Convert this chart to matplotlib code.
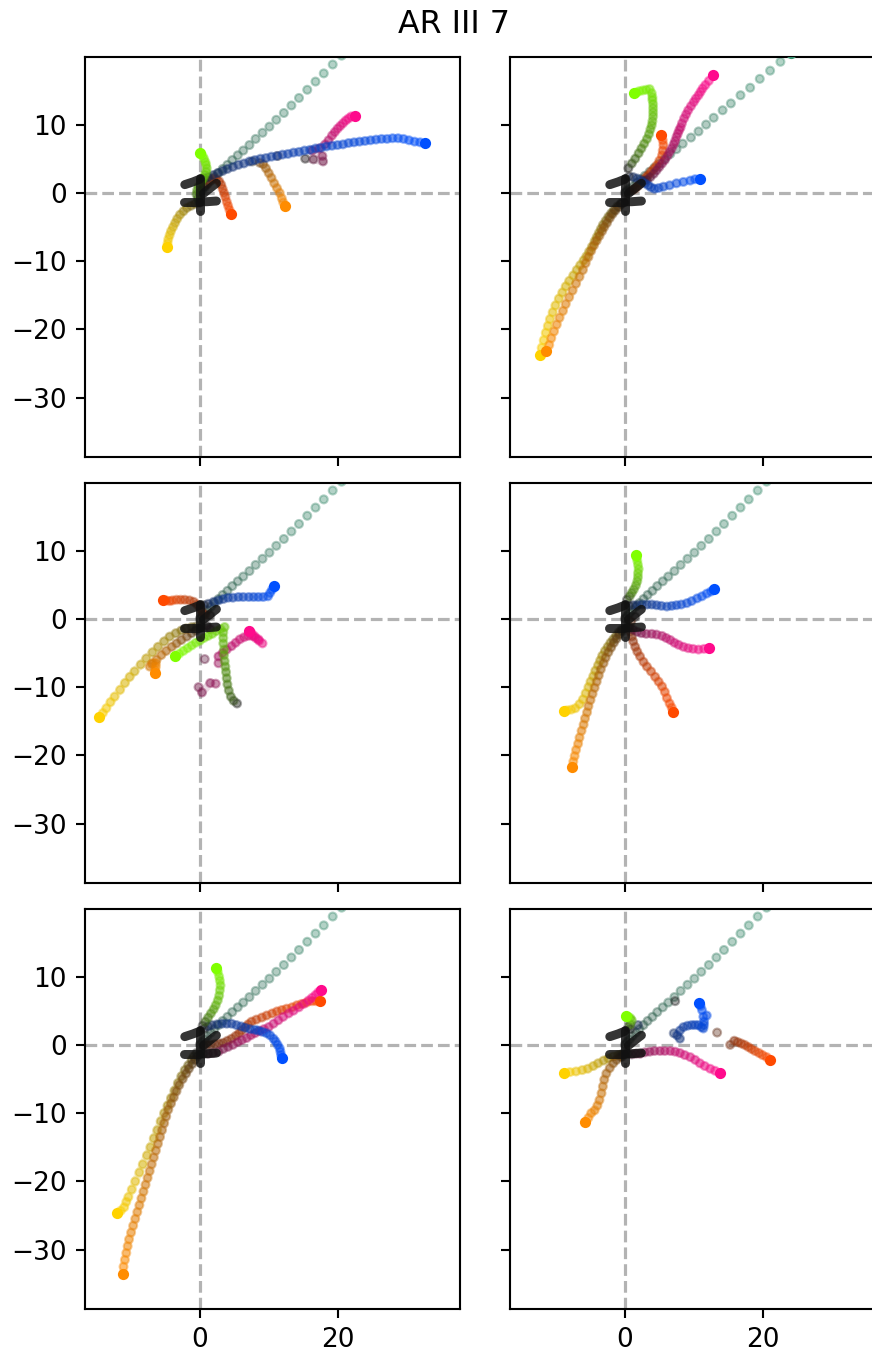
import numpy as np
import matplotlib.pyplot as plt
from matplotlib.collections import LineCollection
from matplotlib.colors import to_rgb

# short strokes where the keypoints sit at the start of every clip
START_A = [(-2.2, 1.2), (-1.6, 1.4), (-1.0, 1.6), (-0.5, 1.8), (0.0, 2.0)]
START_B = [(0.5, -0.1), (1.0, 0.3), (1.5, 0.7), (2.0, 1.1), (2.4, 1.4)]
START_C = [(-2.3, -1.3), (-1.6, -1.3), (-0.9, -1.3), (-0.2, -1.3)]
START_C2 = [(2.4, -1.2), (1.7, -1.25), (1.0, -1.3), (0.3, -1.3)]
START_D = [(0.0, -2.6), (0.0, -1.8), (0.0, -1.0), (0.0, -0.2), (0.0, 0.6), (0.0, 1.4), (0.0, 2.2)]
NO_START = []

# reference diagonal
diag = [(0, 0), (0.3, 0.4), (0.7, 0.8), (1.1, 1.3), (1.6, 1.8), (2.1, 2.3), (2.7, 2.9), (3.3, 3.5),
        (4.0, 4.1), (4.7, 4.8), (5.5, 5.5), (6.3, 6.2), (7.2, 7.0), (8.1, 7.9), (9.1, 8.8), (10.1, 9.7),
        (11.1, 10.7), (12.2, 11.7), (13.3, 12.8), (14.4, 13.9), (15.6, 15.1), (16.8, 16.3), (18.0, 17.5),
        (19.3, 18.8), (20.6, 20.1), (21.9, 21.4)]
diag_2 = [(0, 0), (0.3, 0.3), (0.7, 0.6), (1.2, 1.0), (1.7, 1.5), (2.3, 2.0), (2.9, 2.5), (3.6, 3.1),
          (4.3, 3.7), (5.0, 4.3), (5.8, 5.0), (6.6, 5.7), (7.5, 6.4), (8.4, 7.2), (9.6, 8.1), (10.7, 9.0),
          (11.8, 10.0), (12.9, 11.0), (14.2, 12.1), (15.4, 13.1), (16.8, 14.3), (18.2, 15.4), (19.6, 16.7),
          (21.1, 17.9), (22.6, 19.2), (24.1, 20.5)]

# clip 1
p1_blue = [(0.6, 2.1), (1.2, 2.3), (1.9, 2.6), (2.6, 2.9), (3.3, 3.2), (4.0, 3.5), (4.8, 3.8),
           (5.6, 4.1), (6.4, 4.3), (7.2, 4.6), (8.0, 4.8), (8.8, 5.0), (9.6, 5.1), (10.4, 5.3),
           (11.2, 5.4), (12.0, 5.6), (12.8, 5.7), (13.6, 5.9), (14.4, 6.0), (15.2, 6.2), (16.0, 6.3),
           (16.8, 6.5), (17.6, 6.6), (18.4, 6.8), (19.2, 6.9), (20.0, 7.0), (20.8, 7.1), (21.6, 7.3),
           (22.4, 7.4), (23.2, 7.5), (24.0, 7.6), (24.8, 7.7), (25.6, 7.8), (26.4, 7.9), (27.2, 7.9),
           (28.0, 8.0), (28.8, 8.0), (29.6, 7.9), (30.4, 7.7), (31.2, 7.5), (32.0, 7.4), (32.7, 7.3)]
p1_pink = [(15.3, 5.0), (16.5, 4.9), (17.9, 4.6), (17.8, 5.4), (16.3, 6.2), (17.3, 6.5), (18.2, 7.1),
           (18.7, 7.7), (19.2, 8.4), (19.6, 8.9), (20.0, 9.4), (20.4, 9.8), (20.8, 10.2), (21.2, 10.6),
           (21.6, 10.9), (22.0, 11.2), (22.5, 11.3)]
p1_orange = [(7.6, 4.6), (11.3, 5.4), (8.7, 4.4), (9.2, 4.2), (9.6, 3.6), (10.0, 2.9), (10.4, 2.2),
             (10.8, 1.4), (11.2, 0.7), (11.6, 0.0), (11.9, -0.8), (12.1, -1.4), (12.3, -1.9)]
p1_red = [(0.6, 0.9), (1.0, 1.3), (1.4, 1.7), (1.9, 2.1), (2.4, 2.0), (2.8, 1.7), (3.1, 1.2), (3.3, 0.6),
          (3.5, 0.0), (3.7, -0.6), (3.9, -1.3), (4.1, -1.9), (4.3, -2.5), (4.5, -3.1)]
p1_lime = [(-0.1, -1.4), (-0.3, -0.8), (-0.5, -0.2), (-0.4, 0.4), (-0.2, 0.9), (0.2, 1.6),
           (0.5, 2.1), (0.7, 2.6), (0.9, 3.1), (1.0, 3.6), (0.9, 4.1), (0.8, 4.5), (0.6, 5.0), (0.4, 5.4),
           (0.0, 5.9)]
p1_yellow = [(0.0, -1.4), (-0.7, -1.6), (-1.3, -1.9), (-1.9, -2.2), (-2.4, -2.7), (-2.9, -3.2), (-3.3, -3.8),
             (-3.6, -4.4), (-3.9, -5.0), (-4.2, -5.6), (-4.4, -6.2), (-4.6, -6.8), (-4.7, -7.4), (-4.8, -7.9)]

# clip 2
p2_lime = [(0.5, 3.6), (1.0, 4.3), (1.5, 5.0), (2.0, 5.8), (2.4, 6.5), (2.8, 7.2), (3.2, 7.9),
           (3.5, 8.6), (3.7, 9.3), (3.9, 9.9), (4.0, 10.5), (4.1, 11.2), (4.1, 11.8), (4.1, 12.4),
           (4.1, 13.0), (4.0, 13.6), (4.0, 14.0), (3.9, 14.6), (3.6, 15.2), (3.1, 15.1), (2.6, 15.0),
           (2.1, 14.9), (1.7, 14.7), (1.3, 14.6)]
p2_pink = [(2.8, 1.7), (3.2, 1.9), (3.7, 2.3), (4.2, 2.8), (4.6, 3.3), (5.0, 3.8), (5.4, 4.3),
           (5.8, 4.8), (6.2, 5.4), (6.5, 6.0), (6.8, 6.5), (7.1, 7.1), (7.3, 7.6), (7.5, 8.2),
           (7.7, 8.7), (7.9, 9.2), (8.1, 9.6), (8.3, 10.2), (8.6, 10.9), (8.9, 11.5), (9.2, 12.1),
           (9.6, 12.7), (10.0, 13.3), (10.3, 13.8), (10.7, 14.3), (11.0, 14.8), (11.3, 15.3),
           (11.7, 15.8), (12.2, 16.4), (12.8, 17.3)]
p2_red = [(0.7, 0.2), (1.1, 0.4), (1.5, 0.6), (1.9, 1.0), (2.2, 1.4), (2.7, 1.9), (3.1, 2.3), (3.4, 2.6),
          (3.8, 3.1), (4.2, 3.5), (4.6, 4.0), (5.0, 4.7), (5.4, 5.5), (5.5, 6.2), (5.6, 7.0), (5.5, 7.7),
          (5.2, 8.4)]
p2_blue = [(0.6, 2.4), (1.2, 2.3), (1.8, 2.1), (2.4, 1.8), (2.9, 1.4), (3.4, 1.1), (3.8, 0.8),
           (4.3, 0.6), (4.9, 0.7), (5.6, 0.9), (6.5, 1.1), (7.5, 1.4), (8.5, 1.6), (9.5, 1.8),
           (10.2, 2.0), (10.9, 2.1)]
p2_yellow = [(-0.6, -1.6), (-1.1, -2.0), (-1.6, -2.5), (-2.0, -3.0), (-2.4, -3.5), (-2.8, -4.1),
             (-3.2, -4.7), (-3.5, -5.3), (-3.8, -5.9), (-4.1, -6.5), (-4.4, -7.1), (-4.8, -7.9),
             (-5.2, -8.6), (-5.6, -9.3), (-6.0, -9.9), (-6.5, -10.6), (-7.0, -11.3), (-7.5, -12.1),
             (-8.1, -12.9), (-8.6, -13.7), (-9.1, -14.6), (-9.6, -15.5), (-10.1, -16.5),
             (-10.5, -17.5), (-10.9, -18.5), (-11.2, -19.5), (-11.5, -20.5), (-11.8, -21.6),
             (-12.1, -22.7), (-12.4, -23.8)]
p2_orange = [(-0.5, -1.6), (-0.9, -2.1), (-1.4, -2.6), (-1.8, -3.1), (-2.2, -3.7), (-2.6, -4.4),
             (-3.0, -5.0), (-3.3, -5.6), (-3.7, -6.3), (-4.1, -7.0), (-4.5, -7.7), (-4.9, -8.5),
             (-5.3, -9.4), (-5.7, -10.3), (-6.1, -11.3), (-6.6, -12.3), (-7.1, -13.3), (-7.6, -14.3),
             (-8.1, -15.3), (-8.6, -16.3), (-9.0, -17.3), (-9.5, -18.3), (-9.9, -19.3),
             (-10.3, -20.3), (-10.7, -21.3), (-11.0, -22.3), (-11.4, -23.2)]

# clip 3
p3_blue = [(0.6, 2.0), (1.2, 2.2), (2.0, 2.5), (2.7, 2.7), (3.4, 2.9), (4.1, 3.1), (4.8, 3.1),
           (5.6, 3.2), (6.3, 3.2), (7.1, 3.2), (7.8, 3.2), (8.5, 3.2), (9.2, 3.2), (9.9, 3.3),
           (10.2, 3.8), (10.5, 4.3), (10.8, 4.8)]
p3_red = [(1.5, 0.5), (0.8, 0.6), (0.3, 1.0), (0.0, 1.6), (-0.4, 2.1), (-0.9, 2.5), (-1.5, 2.7),
          (-2.2, 2.8), (-2.8, 2.8), (-3.4, 2.8), (-4.0, 2.7), (-4.4, 2.6), (-4.9, 2.7), (-5.4, 2.8)]
p3_yellow = [(0.2, -1.2), (-0.5, -1.1), (-1.2, -1.2), (-2.0, -1.4), (-2.7, -1.7), (-3.5, -2.1),
             (-4.4, -2.6), (-5.2, -3.3), (-6.1, -4.1), (-6.9, -4.9), (-7.8, -5.8), (-8.6, -6.7),
             (-9.5, -7.7), (-10.2, -8.5), (-10.9, -9.4), (-11.6, -10.4), (-12.4, -11.4),
             (-13.0, -12.2), (-13.6, -13.1), (-14.1, -13.8), (-14.6, -14.4)]
p3_orange = [(-0.6, -1.7), (-1.2, -2.1), (-1.9, -2.6), (-2.7, -3.1), (-3.4, -3.6), (-4.1, -4.1),
             (-4.9, -4.7), (-5.6, -5.3), (-6.3, -6.0), (-7.0, -6.6), (-7.3, -7.0), (-6.8, -6.5),
             (-6.4, -6.5), (-6.4, -7.0), (-6.5, -7.5), (-6.5, -8.0)]
p3_lime = [(5.4, -12.4), (4.9, -12.0), (4.5, -11.4), (4.2, -10.5), (4.0, -9.6), (3.9, -8.7),
           (3.8, -7.8), (3.7, -7.0), (3.6, -6.2), (3.5, -5.3), (3.5, -4.5), (3.4, -3.6), (3.4, -2.8),
           (3.4, -2.0), (3.6, -1.2), (3.0, -1.5), (2.4, -1.8), (1.8, -2.2), (1.2, -2.5), (0.6, -2.8),
           (0.0, -3.2), (-0.6, -3.5), (-1.2, -3.9), (-1.8, -4.3), (-2.4, -4.7), (-3.0, -5.1),
           (-3.6, -5.5)]
p3_pink = [(1.0, -1.0), (1.5, -1.5), (0.7, -5.9), (-0.2, -10.0), (0.3, -10.8), (1.5, -9.4), (2.3, -9.5),
           (2.7, -6.5), (2.7, -5.5), (3.3, -5.0), (3.9, -4.5), (4.6, -4.0), (5.2, -3.5), (5.8, -3.0),
           (6.4, -2.7), (7.0, -2.5), (7.6, -2.5), (8.1, -2.8), (8.6, -3.2), (9.1, -3.6), (8.5, -3.0),
           (7.9, -2.5), (7.5, -2.1), (7.2, -1.8)]

# clip 4
p4_lime = [(0.3, 2.8), (0.7, 3.3), (1.0, 3.8), (1.3, 4.3), (1.6, 4.9), (1.8, 5.5), (1.9, 6.1),
           (1.9, 6.7), (2.0, 7.3), (1.9, 7.9), (1.8, 8.5), (1.7, 9.0), (1.6, 9.3)]
p4_blue = [(0.6, 1.9), (1.2, 2.0), (1.8, 2.0), (2.5, 2.1), (3.2, 2.1), (3.9, 2.1), (4.6, 2.0),
           (5.3, 1.9), (6.1, 1.8), (6.8, 1.9), (7.5, 2.0), (8.2, 2.1), (9.0, 2.3), (9.7, 2.6),
           (10.5, 3.0), (11.2, 3.3), (11.9, 3.7), (12.5, 4.0), (13.0, 4.3)]
p4_pink = [(0.5, -1.3), (1.2, -1.6), (1.8, -1.9), (2.4, -2.1), (3.1, -2.2), (3.9, -2.2), (4.6, -2.3),
           (5.4, -2.5), (6.0, -2.8), (6.6, -3.1), (7.2, -3.5), (7.8, -3.8), (8.5, -4.1), (9.2, -4.3),
           (9.9, -4.4), (10.7, -4.5), (11.5, -4.4), (12.2, -4.2)]
p4_red = [(1.5, 0.3), (0.9, -0.4), (0.7, -1.2), (0.8, -1.9), (1.0, -2.6), (1.2, -3.3), (1.5, -4.1),
          (1.8, -4.8), (2.2, -5.5), (2.7, -6.3), (3.2, -7.0), (3.8, -7.7), (4.4, -8.5), (4.9, -9.2),
          (5.4, -9.9), (5.8, -10.7), (6.1, -11.6), (6.5, -12.4), (6.8, -13.0), (7.0, -13.7)]
p4_yellow = [(-0.5, -1.6), (-0.9, -2.0), (-1.3, -2.5), (-1.7, -3.0), (-2.1, -3.5), (-2.5, -4.1),
             (-2.9, -4.7), (-3.3, -5.4), (-3.6, -6.1), (-3.9, -6.8), (-4.3, -7.6), (-4.6, -8.4),
             (-5.0, -9.2), (-5.3, -10.0), (-5.7, -10.9), (-6.1, -11.8), (-6.6, -12.5), (-7.2, -13.1),
             (-7.8, -13.3), (-8.4, -13.4), (-8.9, -13.5)]
p4_orange = [(-0.4, -1.8), (-0.8, -2.3), (-1.2, -2.9), (-1.6, -3.5), (-2.0, -4.2), (-2.4, -4.9),
             (-2.8, -5.7), (-3.1, -6.5), (-3.5, -7.4), (-3.8, -8.3), (-4.1, -9.2), (-4.4, -10.1),
             (-4.7, -11.0), (-5.0, -11.9), (-5.3, -12.8), (-5.5, -13.7), (-5.8, -14.6),
             (-6.0, -15.5), (-6.3, -16.4), (-6.6, -17.4), (-6.8, -18.3), (-7.1, -19.2),
             (-7.3, -20.1), (-7.5, -20.9), (-7.7, -21.7)]

# clip 5
p5_lime = [(0.4, 2.8), (0.8, 3.4), (1.2, 4.0), (1.6, 4.6), (2.0, 5.2), (2.3, 5.8), (2.6, 6.5),
           (2.8, 7.2), (2.9, 8.0), (3.0, 8.7), (2.9, 9.4), (2.8, 10.0), (2.6, 10.7), (2.4, 11.3)]
p5_pink = [(0.5, -1.3), (1.2, -1.3), (1.9, -1.2), (2.7, -1.0), (3.4, -0.6), (4.1, -0.3),
           (4.8, 0.0), (5.5, 0.4), (6.1, 0.7), (6.8, 1.0), (7.4, 1.4), (8.0, 1.7), (8.7, 2.0),
           (9.3, 2.3), (10.0, 2.6), (10.7, 3.1), (11.4, 3.6), (12.1, 4.1), (12.9, 4.6), (13.6, 5.0),
           (14.4, 5.5), (15.1, 6.0), (15.8, 6.5), (16.3, 6.9), (16.8, 7.3), (17.2, 7.7), (17.6, 8.1)]
p5_red = [(0.5, -0.1), (1.0, 0.0), (1.6, 0.0), (2.2, 0.1), (2.8, 0.2), (3.4, 0.3), (4.0, 0.6), (4.6, 0.9),
          (5.2, 1.3), (5.7, 1.7), (6.1, 2.1), (6.6, 2.6), (7.0, 3.0), (7.5, 3.4), (8.2, 3.7), (9.0, 4.0),
          (9.7, 4.3), (10.5, 4.6), (11.2, 4.9), (11.9, 5.1), (12.6, 5.3), (13.4, 5.5), (14.1, 5.8),
          (14.8, 6.0), (15.5, 6.2), (16.3, 6.4), (16.9, 6.4), (17.5, 6.4)]
p5_blue = [(0.6, 2.4), (1.2, 2.7), (1.7, 2.9), (2.5, 3.0), (3.2, 3.1), (3.9, 3.1), (4.6, 3.1),
           (5.3, 2.9), (6.0, 2.7), (6.6, 2.5), (7.3, 2.3), (8.0, 2.2), (8.5, 2.1), (9.1, 1.9),
           (9.7, 1.7), (10.2, 1.4), (10.7, 0.9), (11.0, 0.5), (11.3, 0.0), (11.6, -0.5),
           (11.7, -1.0), (11.8, -1.5), (11.9, -2.0)]
p5_yellow = [(-0.5, -1.2), (-0.9, -1.7), (-1.2, -2.2), (-1.7, -3.0), (-2.2, -3.7), (-2.7, -4.6), (-3.2, -5.6),
             (-3.7, -6.7), (-4.2, -7.8), (-4.7, -8.9), (-5.2, -10.0), (-5.7, -11.2), (-6.2, -12.5),
             (-6.7, -13.7), (-7.2, -15.0), (-7.7, -16.2), (-8.3, -17.5), (-8.8, -18.7), (-9.4, -20.0),
             (-9.9, -21.2), (-10.4, -22.3), (-10.7, -23.0), (-11.0, -23.8), (-11.5, -24.3), (-12.0, -24.6)]
p5_orange = [(-0.3, -1.6), (-0.7, -2.2), (-1.1, -2.8), (-1.6, -3.5), (-2.0, -4.2), (-2.5, -5.0),
             (-3.0, -5.9), (-3.4, -6.8), (-3.8, -7.7), (-4.2, -8.6), (-4.6, -9.5), (-4.9, -10.5),
             (-5.2, -11.5), (-5.5, -12.5), (-5.8, -13.5), (-6.1, -14.5), (-6.4, -15.5),
             (-6.7, -16.5), (-7.0, -17.5), (-7.3, -18.5), (-7.6, -19.5), (-7.9, -20.5),
             (-8.2, -21.5), (-8.5, -22.5), (-8.8, -23.5), (-9.1, -24.5), (-9.4, -25.5),
             (-9.7, -26.5), (-10.0, -27.5), (-10.3, -28.5), (-10.5, -29.5), (-10.7, -30.5),
             (-10.9, -31.5), (-11.1, -32.5), (-11.2, -33.6)]

# clip 6
p6_lime = [(0.5, 2.6), (0.8, 3.0), (1.0, 3.6), (0.8, 3.9), (0.5, 4.1), (0.1, 4.2)]
p6_blue = [(0.8, 2.3), (1.9, 2.9), (7.1, 1.7), (8.0, 0.9), (7.6, 1.4), (8.0, 2.1), (8.5, 2.6),
           (9.1, 2.8), (9.7, 2.9), (10.2, 2.9), (10.7, 2.9), (11.1, 2.6), (11.4, 2.4), (11.5, 2.9),
           (11.5, 3.4), (11.9, 4.3), (11.4, 4.1), (11.2, 5.1), (11.0, 5.7), (10.8, 6.2)]
p6_red = [(7.3, 6.4), (13.4, 1.8), (15.3, 0.0), (15.9, 0.6), (16.4, 0.4), (16.9, 0.2), (17.4, 0.0),
          (17.9, -0.3), (18.4, -0.6), (18.9, -0.9), (19.5, -1.2), (20.0, -1.5), (20.6, -1.8),
          (21.1, -2.2)]
p6_pink = [(0.4, -1.3), (1.0, -1.4), (1.6, -1.3), (2.2, -1.3), (2.9, -1.1), (3.6, -1.0), (4.3, -0.9),
           (5.1, -0.9), (5.8, -0.9), (6.6, -0.9), (7.3, -1.0), (8.0, -1.2), (8.7, -1.5), (9.5, -1.8),
           (10.2, -2.2), (10.9, -2.7), (11.6, -3.1), (12.4, -3.5), (13.1, -3.8), (13.8, -4.1)]
p6_yellow = [(-0.3, -1.3), (-0.7, -1.5), (-1.0, -1.5), (-1.7, -1.7), (-2.4, -2.0), (-3.1, -2.3), (-3.9, -2.7),
             (-4.6, -3.1), (-5.4, -3.5), (-6.2, -3.7), (-7.1, -3.9), (-8.0, -4.0), (-8.8, -4.1)]
p6_orange = [(-0.4, -1.7), (-0.7, -1.8), (-1.2, -2.2), (-1.7, -2.7), (-2.2, -3.4), (-2.7, -4.2),
             (-3.0, -5.1), (-3.2, -6.1), (-3.4, -7.1), (-3.7, -8.1), (-4.0, -8.9), (-4.4, -9.6),
             (-4.9, -10.0), (-5.3, -10.7), (-5.8, -11.3)]

COLORS = {'diag': '#3a9070', 'lime': '#80ff00', 'blue': '#0050ff', 'pink': '#ff0a8c',
          'red': '#ff4a00', 'orange': '#ff8c00', 'yellow': '#ffd200'}
DARK = np.array([0.12, 0.12, 0.12])

# (colour, resting stroke, path)
panels = [
    [('diag', NO_START, diag), ('yellow', START_C, p1_yellow), ('orange', START_C2, p1_orange),
     ('red', NO_START, p1_red), ('pink', START_B, p1_pink), ('blue', START_A, p1_blue),
     ('lime', START_D, p1_lime)],
    [('diag', NO_START, diag_2), ('yellow', START_C, p2_yellow), ('orange', START_C2, p2_orange),
     ('red', NO_START, p2_red), ('pink', START_B, p2_pink), ('blue', START_A, p2_blue),
     ('lime', START_D, p2_lime)],
    [('diag', NO_START, diag), ('yellow', START_C, p3_yellow), ('orange', START_C2, p3_orange),
     ('red', START_B, p3_red), ('pink', NO_START, p3_pink), ('blue', START_A, p3_blue),
     ('lime', START_D, p3_lime)],
    [('diag', NO_START, diag), ('yellow', START_C, p4_yellow), ('orange', START_C2, p4_orange),
     ('red', START_B, p4_red), ('pink', NO_START, p4_pink), ('blue', START_A, p4_blue),
     ('lime', START_D, p4_lime)],
    [('diag', NO_START, diag), ('yellow', NO_START, p5_yellow), ('orange', START_C2, p5_orange),
     ('red', START_B, p5_red), ('pink', START_C, p5_pink), ('blue', START_A, p5_blue),
     ('lime', START_D, p5_lime)],
    [('diag', NO_START, diag), ('yellow', NO_START, p6_yellow), ('orange', START_C2, p6_orange),
     ('red', START_B, p6_red), ('pink', START_C, p6_pink), ('blue', START_A, p6_blue),
     ('lime', START_D, p6_lime)],
]


def draw_track(ax, start, pts, color, line=True):
    if start:
        s = np.array(start, dtype=float)
        ax.plot(s[:, 0], s[:, 1], color='#111111', lw=3.4, alpha=0.85,
                solid_capstyle='round', zorder=4)
    xy = np.array(pts, dtype=float)
    n = len(xy)
    # fade from near-black at the first frame to the full colour at the last
    t = np.linspace(0, 1, n)[:, None] ** 0.5
    rgb = DARK[None, :] * (1 - t) + np.array(to_rgb(color))[None, :] * t
    if line:
        seg = np.stack([xy[:-1], xy[1:]], axis=1)
        near = np.hypot(*(xy[1:] - xy[:-1]).T) < 2.0
        lc = LineCollection(seg[near], colors=rgb[1:][near], linewidths=3.0,
                            alpha=0.16, capstyle='round', zorder=2)
        ax.add_collection(lc)
    ax.scatter(xy[:-1, 0], xy[:-1, 1], s=9, c=rgb[:-1], alpha=0.38, linewidths=0.8, zorder=2)
    ax.scatter(xy[-1, 0], xy[-1, 1], s=18, c=[color], linewidths=0, zorder=3)


W, H = 872, 1355
fig = plt.figure(figsize=(W / 190, H / 190), dpi=190)
lefts = [85, 510]
tops = [57, 483, 909]

for k, tracks in enumerate(panels):
    r, c = divmod(k, 2)
    ax = fig.add_axes([lefts[c] / W, 1 - (tops[r] + 400) / H, 375 / W, 400 / H])
    ax.axhline(0, color='0.7', ls='--', lw=1.2, zorder=1)
    ax.axvline(0, color='0.7', ls='--', lw=1.2, zorder=1)
    for name, start, pts in tracks:
        draw_track(ax, start, pts, COLORS[name], line=(name != 'diag'))
    ax.set_xlim(-16.7, 37.8)
    ax.set_ylim(-38.7, 19.9)
    ax.set_xticks([0, 20])
    ax.set_yticks([-30, -20, -10, 0, 10])
    ax.tick_params(labelleft=(c == 0), labelbottom=(r == 2))

fig.text(454 / W, 1 - 33 / H, 'AR III 7', ha='center', va='baseline', fontsize=12)
fig.savefig('out.png', dpi=190)
